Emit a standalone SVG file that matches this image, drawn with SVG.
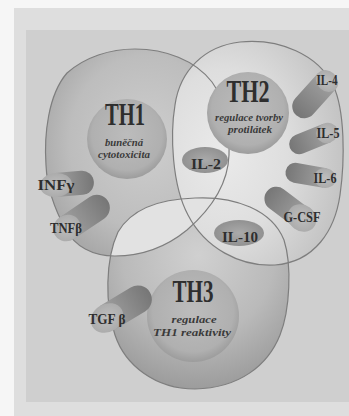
<svg xmlns="http://www.w3.org/2000/svg" width="349" height="416" viewBox="0 0 349 416">
<defs>
<style>
.big{font-family:"Liberation Serif",serif;font-weight:bold;fill:#2e2e2e;text-anchor:middle}
.sub{font-family:"Liberation Serif",serif;font-style:italic;font-weight:bold;fill:#3a3a3a;font-size:10.5px;text-anchor:middle}
.lab{font-family:"Liberation Serif",serif;font-weight:bold;fill:#2e2e2e;font-size:15px;text-anchor:middle}
.outline{fill:none;stroke:#7e7e7e;stroke-width:1.2}
.body{fill:url(#cyl)}
.face{fill:url(#faceG)}
.inner{fill:url(#innerG)}
</style>
<radialGradient id="g1" cx="0.55" cy="0.45" r="0.6">
<stop offset="0" stop-color="#cecece"/><stop offset="0.7" stop-color="#bdbdbd"/><stop offset="1" stop-color="#a9a9a9"/>
</radialGradient>
<radialGradient id="g2" cx="0.3" cy="0.5" r="0.75">
<stop offset="0" stop-color="#eaeaea"/><stop offset="0.5" stop-color="#dedede"/><stop offset="1" stop-color="#c0c0c0"/>
</radialGradient>
<radialGradient id="g3" cx="0.5" cy="0.3" r="0.7">
<stop offset="0" stop-color="#d0d0d0"/><stop offset="0.6" stop-color="#bababa"/><stop offset="1" stop-color="#9c9c9c"/>
</radialGradient>
<radialGradient id="innerG" cx="0.5" cy="0.45" r="0.55">
<stop offset="0" stop-color="#bcbcbc"/><stop offset="0.8" stop-color="#b0b0b0"/><stop offset="1" stop-color="#9c9c9c"/>
</radialGradient>
<linearGradient id="cyl" x1="0" y1="0" x2="1" y2="0">
<stop offset="0" stop-color="#a0a0a0"/><stop offset="1" stop-color="#767676"/>
</linearGradient>
<radialGradient id="faceG" cx="0.5" cy="0.5" r="0.6">
<stop offset="0" stop-color="#bebebe"/><stop offset="1" stop-color="#a8a8a8"/>
</radialGradient>
<radialGradient id="ilG" cx="0.5" cy="0.5" r="0.6">
<stop offset="0" stop-color="#aaaaaa"/><stop offset="1" stop-color="#8c8c8c"/>
</radialGradient>
<path id="p1" d="M 67,73 C 85,57 110,49 135,49 C 165,49 195,60 212,82 C 226,101 230,130 229,155 C 228,185 210,210 187,230 C 165,248 140,256 115,256 C 92,256 75,246 66,230 C 55,210 47,190 46,165 C 44,135 48,95 67,73 Z"/>
<path id="p2" d="M 240,42 C 280,38 318,55 333,85 C 345,110 345,160 340,195 C 335,230 315,262 275,265 C 240,267 205,248 188,215 C 172,185 170,135 175,105 C 180,70 205,46 240,42 Z"/>
<path id="p3" d="M 195,198 C 235,196 272,210 284,240 C 292,265 290,310 280,335 C 268,365 240,388 195,389 C 155,389 125,365 115,335 C 105,305 105,260 118,232 C 132,208 160,199 195,198 Z"/>
<clipPath id="c1"><use href="#p1"/></clipPath>
</defs>

<g id="background">
<rect x="0" y="0" width="349" height="416" fill="#f6f6f6"/>
<rect x="14" y="8" width="335" height="408" fill="#dedede"/>
<rect x="26" y="30" width="323" height="372" fill="#cfcfcf"/>
</g>

<g id="areas">
<use href="#p1" fill="url(#g1)"/>
<use href="#p3" fill="url(#g3)"/>
<use href="#p2" fill="url(#g2)"/>
<use href="#p3" fill="#e2e2e2" clip-path="url(#c1)"/>
</g>

<g id="connectors"></g>

<g id="th1">
<use href="#p1" class="outline"/>
<circle class="inner" cx="127" cy="139" r="40"/>
<text class="big" x="125" y="125" font-size="32" textLength="40" lengthAdjust="spacingAndGlyphs">TH1</text>
<text class="sub" x="124" y="146" textLength="38" lengthAdjust="spacingAndGlyphs">buněčná</text>
<text class="sub" x="124" y="158" textLength="52" lengthAdjust="spacingAndGlyphs">cytotoxicita</text>
</g>

<g id="th2">
<use href="#p2" class="outline"/>
<circle class="inner" cx="248" cy="113" r="41"/>
<text class="big" x="248" y="102" font-size="32" textLength="43" lengthAdjust="spacingAndGlyphs">TH2</text>
<text class="sub" x="249" y="121" textLength="68" lengthAdjust="spacingAndGlyphs">regulace tvorby</text>
<text class="sub" x="250" y="133" textLength="44" lengthAdjust="spacingAndGlyphs">protilátek</text>
</g>

<g id="th3">
<use href="#p3" class="outline"/>
<circle class="inner" cx="193" cy="316" r="46"/>
<text class="big" x="193" y="302" font-size="32" textLength="41" lengthAdjust="spacingAndGlyphs">TH3</text>
<text class="sub" x="194" y="323" textLength="45" lengthAdjust="spacingAndGlyphs">regulace</text>
<text class="sub" x="192" y="336" textLength="78" lengthAdjust="spacingAndGlyphs">TH1 reaktivity</text>
</g>

<g id="il4">
<g transform="translate(327,81) rotate(132)">
<path class="body" d="M0,-12 H34 A12,12 0 0 1 34,12 H0 Z"/>
<ellipse class="face" cx="0" cy="0" rx="10" ry="12"/>
</g>
<text class="lab" x="327" y="85" textLength="21" lengthAdjust="spacingAndGlyphs">IL-4</text>
</g>

<g id="il5">
<g transform="translate(327,133) rotate(158)">
<path class="body" d="M0,-10 H30 A10,10 0 0 1 30,10 H0 Z"/>
<ellipse class="face" cx="0" cy="0" rx="11" ry="10"/>
</g>
<text class="lab" x="328" y="138" textLength="23" lengthAdjust="spacingAndGlyphs">IL-5</text>
</g>

<g id="il6">
<g transform="translate(325,178) rotate(190)">
<path class="body" d="M0,-10 H30 A10,10 0 0 1 30,10 H0 Z"/>
<ellipse class="face" cx="0" cy="0" rx="11" ry="10"/>
</g>
<text class="lab" x="325" y="183" textLength="23" lengthAdjust="spacingAndGlyphs">IL-6</text>
</g>

<g id="gcsf">
<g transform="translate(302,218) rotate(217)">
<path class="body" d="M0,-12 H32 A12,12 0 0 1 32,12 H0 Z"/>
<ellipse class="face" cx="0" cy="0" rx="15" ry="13"/>
</g>
<text class="lab" x="302" y="222" font-size="13" textLength="37" lengthAdjust="spacingAndGlyphs">G-CSF</text>
</g>

<g id="il2">
<ellipse cx="205" cy="160" rx="23" ry="13" fill="url(#ilG)"/>
<text class="lab" x="206" y="169" font-size="17" textLength="30" lengthAdjust="spacingAndGlyphs">IL-2</text>
</g>

<g id="il10">
<ellipse cx="239" cy="233" rx="25" ry="13" fill="url(#ilG)"/>
<text class="lab" x="240" y="242" font-size="17" textLength="36" lengthAdjust="spacingAndGlyphs">IL-10</text>
</g>

<g id="infg">
<g transform="translate(56,185) rotate(-5)">
<path class="body" d="M0,-12 H26 A12,12 0 0 1 26,12 H0 Z"/>
<ellipse class="face" cx="0" cy="0" rx="16" ry="12"/>
</g>
<text class="lab" x="56" y="190" textLength="37" lengthAdjust="spacingAndGlyphs">INFγ</text>
</g>

<g id="tnfb">
<g transform="translate(67,228) rotate(-34)">
<path class="body" d="M0,-13 H36 A13,13 0 0 1 36,13 H0 Z"/>
<ellipse class="face" cx="0" cy="0" rx="14" ry="13"/>
</g>
<text class="lab" x="66" y="233" textLength="32" lengthAdjust="spacingAndGlyphs">TNFβ</text>
</g>

<g id="tgfb">
<g transform="translate(107,318) rotate(-31)">
<path class="body" d="M0,-14 H36 A14,14 0 0 1 36,14 H0 Z"/>
<ellipse class="face" cx="0" cy="0" rx="17" ry="14"/>
</g>
<text class="lab" x="107" y="324" font-size="17" textLength="37" lengthAdjust="spacingAndGlyphs">TGF β</text>
</g>
</svg>
